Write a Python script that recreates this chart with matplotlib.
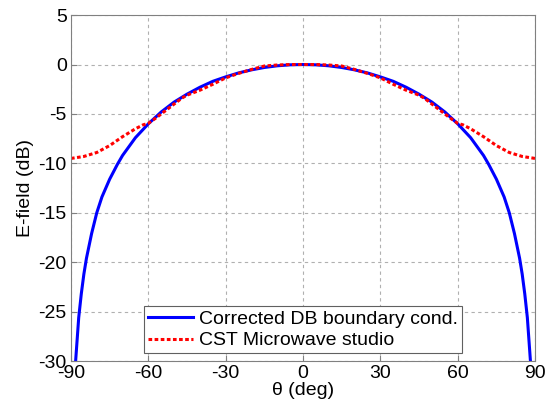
import numpy as np
import matplotlib.pyplot as plt

plt.rcParams['font.family'] = ['Liberation Sans', 'DejaVu Sans']
plt.rcParams['axes.unicode_minus'] = False

# blue: corrected DB boundary cond.
theta_db = [-88.2, -87, -86, -85, -84, -82, -80, -78, -75, -72, -70, -65, -60, -55, -50,
            -45, -40, -35, -30, -25, -20, -15, -10, -5, 0,
            5, 10, 15, 20, 25, 30, 35, 40, 45, 50, 55, 60, 65, 70,
            72, 75, 78, 80, 82, 84, 85, 86, 87, 88.2]
e_db = [-30.0, -25.6, -23.2, -21.2, -19.6, -17.1, -15.0, -13.4, -11.6, -10.1, -9.2, -7.4, -6.0, -4.8, -3.8,
        -3.0, -2.3, -1.7, -1.25, -0.85, -0.54, -0.3, -0.13, -0.03, 0.0,
        -0.03, -0.13, -0.3, -0.54, -0.85, -1.25, -1.7, -2.3, -3.0, -3.8, -4.8, -6.0, -7.4, -9.2,
        -10.1, -11.6, -13.4, -15.0, -17.1, -19.6, -21.2, -23.2, -25.6, -30.0]

# red: CST Microwave studio
theta_cst = [-90, -85, -80, -75, -70, -65, -62, -60, -57, -55, -52, -50, -47, -45, -42, -40,
             -35, -30, -25, -20, -15, -10, -5, 0,
             5, 10, 15, 20, 25, 30, 35, 40, 42, 45, 47, 50, 52, 55, 57, 60, 62,
             65, 70, 75, 80, 85, 90]
e_cst = [-9.5, -9.3, -8.9, -8.2, -7.3, -6.5, -6.1, -5.95, -5.4, -5.0, -4.4, -4.0, -3.4, -3.1, -2.8, -2.6,
         -2.0, -1.35, -0.9, -0.5, -0.15, -0.05, 0.0, 0.0,
         0.0, -0.05, -0.15, -0.5, -0.9, -1.35, -2.0, -2.6, -2.8, -3.1, -3.4, -4.0, -4.4, -5.0, -5.4, -5.95, -6.1,
         -6.5, -7.3, -8.2, -8.9, -9.3, -9.5]

fig = plt.figure(figsize=(5.46, 4.08), dpi=100)
ax = fig.add_axes([0.130, 0.115, 0.850, 0.848])

ax.plot(theta_db, e_db, color='#0000ff', lw=2.2, label='Corrected DB boundary cond.')
ax.plot(theta_cst, e_cst, color='#ff0000', lw=2.2, ls=(0, (1.2, 0.8)), label='CST Microwave studio')

ax.set_xlim(-90, 90)
ax.set_ylim(-30, 5)
ax.set_xticks(np.arange(-90, 91, 30))
ax.set_yticks(np.arange(-30, 6, 5))
ax.grid(True, ls=(0, (3, 3)), color='#b0b0b0', lw=0.8)
ax.tick_params(labelsize=14, direction='in', length=4, color='#808080', pad=3)
for s in ax.spines.values():
    s.set_color('#808080')

ax.set_xlabel('θ (deg)', fontsize=14, labelpad=0)
ax.set_ylabel('E-field (dB)', fontsize=14, labelpad=3)

leg = ax.legend(loc='lower center', fontsize=14, fancybox=False, framealpha=1,
                edgecolor='#606060', borderpad=0.2, handlelength=2.3, handletextpad=0.3,
                labelspacing=0.2, borderaxespad=0.4)
leg.get_frame().set_linewidth(0.8)

fig.savefig('out.png', dpi=100)
